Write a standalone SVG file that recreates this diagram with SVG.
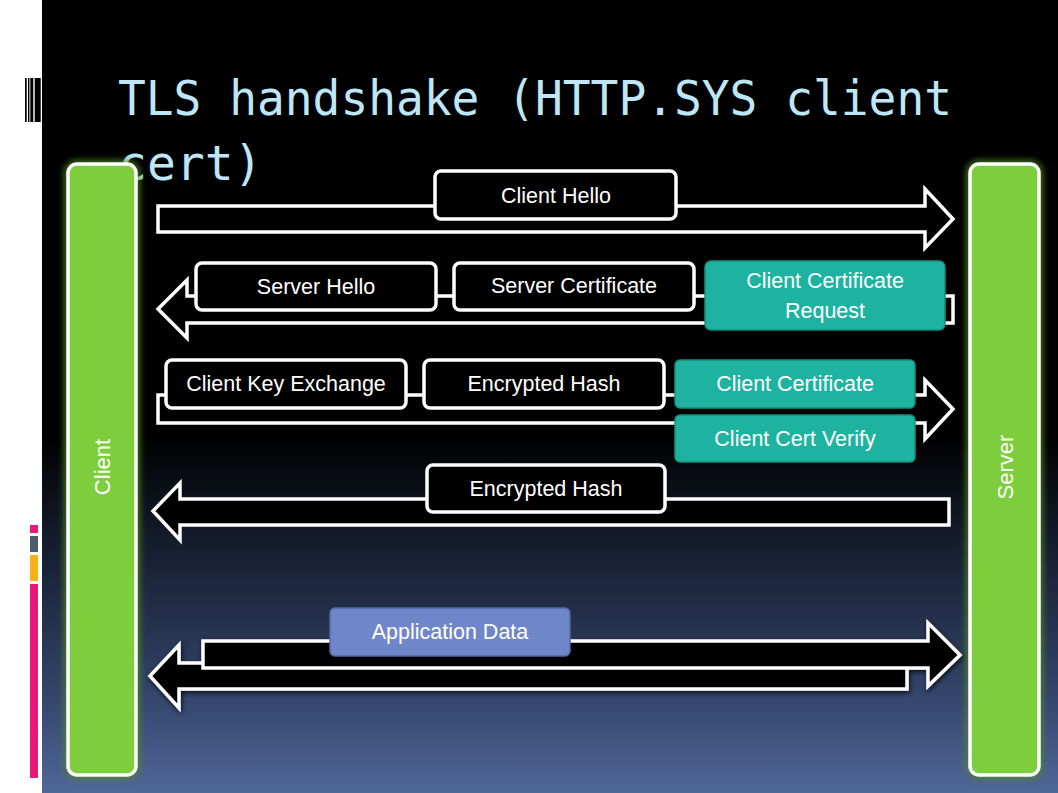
<svg xmlns="http://www.w3.org/2000/svg" width="1058" height="793" viewBox="0 0 1058 793">
<defs>
<linearGradient id="bg" x1="0" y1="0" x2="0" y2="1">
<stop offset="0" stop-color="#000"/>
<stop offset="0.55" stop-color="#000"/>
<stop offset="0.75" stop-color="#1f2a42"/>
<stop offset="0.88" stop-color="#34466c"/>
<stop offset="1" stop-color="#50679a"/>
</linearGradient>
<filter id="glow" x="-30%" y="-10%" width="160%" height="120%">
<feGaussianBlur stdDeviation="3"/>
</filter>
<filter id="shadow" x="-5%" y="-30%" width="110%" height="160%">
<feGaussianBlur in="SourceAlpha" stdDeviation="2.5"/>
<feOffset dx="1" dy="2"/>
<feComponentTransfer><feFuncA type="linear" slope="0.8"/></feComponentTransfer>
<feMerge><feMergeNode/><feMergeNode in="SourceGraphic"/></feMerge>
</filter>
</defs>
<style>
.arrow{fill:#000;stroke:#fff;stroke-width:3.5;stroke-linejoin:miter}
.box{fill:#000;stroke:#fff;stroke-width:3.5}
.teal{fill:#1db3a0;stroke:#16907f;stroke-width:1.5}
.app{fill:#6f87c9;stroke:#5568a8;stroke-width:1.5}
.lbl{font-family:"Liberation Sans",Arial,sans-serif;font-size:21.5px;fill:#fff;text-anchor:middle}
.bar{fill:#7dcd3c;stroke:#fff;stroke-width:3.5}
.barglow{fill:none;stroke:#4f8a22;stroke-width:8;opacity:0.8}
.side{font-family:"Liberation Sans",Arial,sans-serif;font-size:22px;fill:#fff;text-anchor:middle}
</style>
<rect x="0" y="0" width="1058" height="793" fill="#fff"/>
<rect x="42" y="0" width="1016" height="793" fill="url(#bg)"/>
<g id="barcode" fill="#000">
<rect x="25" y="78" width="1.7" height="44"/>
<rect x="28" y="78" width="1.4" height="44"/>
<rect x="30.3" y="78" width="3" height="44"/>
<rect x="34.7" y="78" width="6" height="44"/>
</g>
<g id="colorbars">
<rect x="30" y="525" width="8" height="8" fill="#e8197a"/>
<rect x="30" y="536" width="8" height="16" fill="#4f5b6e"/>
<rect x="30" y="555" width="8" height="26" fill="#fbb016"/>
<rect x="30" y="584" width="8" height="194" fill="#e8197a"/>
</g>
<text id="title" font-family="'DejaVu Sans Mono','Liberation Mono',monospace" font-size="48" fill="#bfe6f7"><tspan x="118" y="115" textLength="834" lengthAdjust="spacingAndGlyphs">TLS handshake (HTTP.SYS client</tspan><tspan x="118" y="180">cert)</tspan></text>
<g id="client">
<rect class="barglow" x="68" y="164" width="68" height="611" rx="9" filter="url(#glow)"/>
<rect class="bar" x="68" y="164" width="68" height="611" rx="9"/>
<text class="side" transform="translate(110,467) rotate(-90)">Client</text>
</g>
<g id="server">
<rect class="barglow" x="970" y="164" width="69" height="611" rx="9" filter="url(#glow)"/>
<rect class="bar" x="970" y="164" width="69" height="611" rx="9"/>
<text class="side" transform="translate(1013,467) rotate(-90)">Server</text>
</g>
<g id="connectors">
<polygon class="arrow" points="158,206 925,206 925,189 953,219 925,248 925,232 158,232"/>
<polygon class="arrow" points="953,296 187,296 187,280 158,309 187,338 187,323 953,323"/>
<polygon class="arrow" points="158,395 925,395 925,380 953,409 925,439 925,423 158,423"/>
<polygon class="arrow" points="949,499 180,499 180,483 153,511 180,540 180,525 949,525"/>
<g filter="url(#shadow)">
<polygon class="arrow" points="907,663 179,663 179,645 150,676 179,708 179,689 907,689"/>
<polygon class="arrow" points="203,641 928,641 928,623 960,655 928,686 928,668 203,668"/>
</g>
</g>
<g id="client-hello"><rect class="box" x="435" y="171" width="241" height="48" rx="6"/><text class="lbl" x="556" y="203">Client Hello</text></g>
<g id="server-hello"><rect class="box" x="196" y="263" width="240" height="47" rx="6"/><text class="lbl" x="316" y="294">Server Hello</text></g>
<g id="server-certificate"><rect class="box" x="454" y="263" width="240" height="47" rx="6"/><text class="lbl" x="574" y="293">Server Certificate</text></g>
<g id="client-certificate-request"><rect class="teal" x="705" y="261" width="240" height="69" rx="6"/><text class="lbl" x="825" y="288">Client Certificate</text><text class="lbl" x="825" y="318">Request</text></g>
<g id="client-key-exchange"><rect class="box" x="166" y="360" width="240" height="48" rx="6"/><text class="lbl" x="286" y="391">Client Key Exchange</text></g>
<g id="encrypted-hash-1"><rect class="box" x="424" y="360" width="240" height="48" rx="6"/><text class="lbl" x="544" y="391">Encrypted Hash</text></g>
<g id="client-certificate"><rect class="teal" x="675" y="360" width="240" height="48" rx="5"/><text class="lbl" x="795" y="391">Client Certificate</text></g>
<g id="client-cert-verify"><rect class="teal" x="675" y="415" width="240" height="47" rx="5"/><text class="lbl" x="795" y="446">Client Cert Verify</text></g>
<g id="encrypted-hash-2"><rect class="box" x="427" y="465" width="238" height="47" rx="6"/><text class="lbl" x="546" y="496">Encrypted Hash</text></g>
<g id="application-data"><rect class="app" x="330" y="608" width="240" height="48" rx="5"/><text class="lbl" x="450" y="639">Application Data</text></g>
</svg>
